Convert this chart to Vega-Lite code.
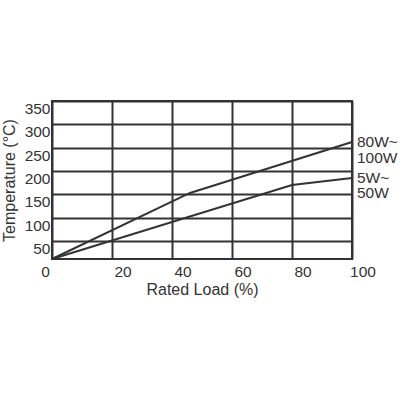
{
  "$schema": "https://vega.github.io/schema/vega-lite/v6.json",
  "autosize": "none",
  "padding": {"left": 52, "top": 101, "right": 48, "bottom": 141},
  "width": 300,
  "height": 158,
  "config": {
    "view": {"stroke": "#333", "strokeWidth": 2},
    "font": "Liberation Sans",
    "axis": {
      "grid": true,
      "gridColor": "#333",
      "gridWidth": 2,
      "gridOpacity": 1,
      "domain": false,
      "ticks": false,
      "tickSize": 0,
      "labelFontSize": 15.5,
      "labelColor": "#333",
      "labelFont": "Liberation Sans",
      "titleFontSize": 16,
      "titleFontWeight": "normal",
      "titleColor": "#333",
      "titleFont": "Liberation Sans"
    }
  },
  "data": {
    "values": [
      {"series": "80W~ 100W", "load": 0, "temp": 11.4},
      {"series": "80W~ 100W", "load": 46, "temp": 153},
      {"series": "80W~ 100W", "load": 100, "temp": 262},
      {"series": "5W~ 50W", "load": 0, "temp": 11.4},
      {"series": "5W~ 50W", "load": 80, "temp": 170},
      {"series": "5W~ 50W", "load": 100, "temp": 185}
    ]
  },
  "encoding": {
    "x": {
      "field": "load",
      "type": "quantitative",
      "title": "Rated Load (%)",
      "scale": {"domain": [0, 100], "nice": false},
      "axis": {
        "values": [0, 20, 40, 60, 80, 100],
        "labelPadding": 5,
        "labelOffset": {"condition": {"test": "datum.value == 0", "value": -7}, "value": 10.5},
        "labelFlush": false,
        "titlePadding": 2
      }
    },
    "y": {
      "field": "temp",
      "type": "quantitative",
      "title": "Temperature (°C)",
      "scale": {"domain": [11.4, 350], "nice": false, "zero": false},
      "axis": {
        "values": [50, 100, 150, 200, 250, 300, 350],
        "labelPadding": 2,
        "labelOffset": 7.5,
        "labelFlush": false,
        "titlePadding": 7
      }
    }
  },
  "layer": [
    {
      "mark": {"type": "line", "color": "#333", "strokeWidth": 2},
      "encoding": {"detail": {"field": "series"}}
    },
    {
      "transform": [{"filter": "datum.load == 100"}],
      "mark": {
        "type": "text",
        "align": "left",
        "baseline": "middle",
        "dx": 5,
        "fontSize": 15.5,
        "lineHeight": 15.5,
        "lineBreak": " ",
        "color": "#333",
        "font": "Liberation Sans"
      },
      "encoding": {"text": {"field": "series"}}
    }
  ]
}
